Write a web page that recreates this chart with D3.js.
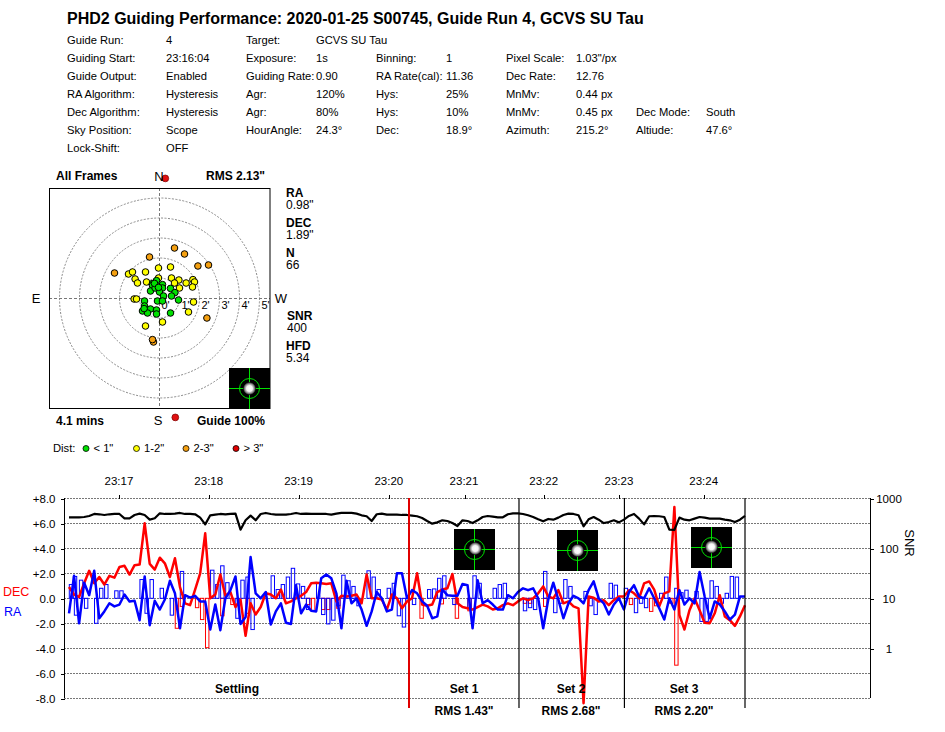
<!DOCTYPE html>
<html><head><meta charset="utf-8">
<script src="https://cdnjs.cloudflare.com/ajax/libs/d3/7.8.5/d3.min.js"></script>
<style>html,body{margin:0;padding:0;background:#fff}svg{display:block}text{font-family:"Liberation Sans",Arial,sans-serif;fill:#000}</style>
</head><body><svg id="c" width="945" height="732"></svg>
<script>
const chartTitle = 'PHD2 Guiding Performance: 2020-01-25 S00745, Guide Run 4, GCVS SU Tau';
const infoRows = [
 ['Guide Run:','4','Target:','GCVS SU Tau'],
 ['Guiding Start:','23:16:04','Exposure:','1s','Binning:','1','Pixel Scale:','1.03"/px'],
 ['Guide Output:','Enabled','Guiding Rate:','0.90','RA Rate(cal):','11.36','Dec Rate:','12.76'],
 ['RA Algorithm:','Hysteresis','Agr:','120%','Hys:','25%','MnMv:','0.44 px'],
 ['Dec Algorithm:','Hysteresis','Agr:','80%','Hys:','10%','MnMv:','0.45 px','Dec Mode:','South'],
 ['Sky Position:','Scope','HourAngle:','24.3°','Dec:','18.9°','Azimuth:','215.2°','Altiude:','47.6°'],
 ['Lock-Shift:','OFF']
];
const statLabels = ['RA','DEC','N','SNR','HFD'];
const statValues = ['0.98"','1.89"','66','400','5.34'];

const pointsGreen = [[-.35,.72],[-.15,.87],[-.35,.63],[.15,.67],[-.45,.35],[-.22,.5],[.15,.5],[0,.3],[.55,.48],[.77,.27],[.6,.1],[.2,.1],[.95,-.1],[-.1,-.15],[.15,-.15],[-.75,-.15],[-.75,-.4],[-.85,-.65],[-.45,-.55],[-.6,-.75],[-.15,-.6],[-.15,-.8],[.55,-.75],[-.77,-.53],[-.25,.73],[-.05,.53]];
const pointsYellow = [[-.05,1.5],[.55,1.55],[-1.55,1.2],[-1.35,1.3],[-.7,1.3],[-1.22,.95],[-1.1,.75],[-.65,.8],[-.05,1],[.6,1],[.97,.9],[.75,.75],[1.33,.75],[1.67,.92],[1.75,.8],[1.65,.55],[1,.5],[-1.27,-.05],[-1.15,-.05],[1.7,-.2],[1.45,-.7],[.15,-1.2],[-.7,-1.4]];
const pointsOrange = [[.75,2.5],[1.25,2.2],[-.5,2.05],[1.92,1.6],[2.45,1.65],[-2.25,1.25],[2.37,-1],[-.3,-2.2],[-.35,-2.08]];
const pointsRed = [[.29,5.98],[.79,-5.97]];
const ringRadii = [1,2,3,4,5];
const legendLabels = ['< 1"','1-2"','2-3"','> 3"'];
const legendColors = ['#00e000','#ffff00','#f5a010','#e00000'];

const decValues = [.9,.3,.1,1.2,2.2,1.2,1.7,1.1,1.8,1.65,2.5,2.6,1.9,2.65,2.7,6,2.75,2.3,3.25,2.8,1.7,3.2,.9,-.4,-.55,.7,2,5.2,0,.3,1.9,.2,.5,-.7,-.1,-3,-.4,-1.3,-.7,.4,.3,0,.7,-.4,-.25,0,.2,.5,1.2,1.25,1.2,1.15,1.2,-.25,.2,.15,.2,.3,-.4,1.9,0,0,-.1,-.9,.3,0,-.8,-.25,0,2,-.5,-.6,-.5,.5,.7,.8,1.95,-.4,-.7,-.8,-.9,-.7,-.5,-.65,-.9,-.8,-.55,-.4,-.55,-.25,0,-.15,0,.4,.95,.15,0,.65,-.4,-.25,-.65,-.8,-8.4,.15,.05,-.25,-.15,-.55,-.15,.15,.15,.65,.4,0,1.2,1.35,.7,-.65,.4,.55,7.3,-1.35,-2.5,-.95,0,-.95,-1.95,-2,-1.2,.25,-1.45,-1.75,-2.2,-1.45,-.55];
const raValues = [-1.2,1.8,-2,1.25,.25,2.2,-1.6,-1.05,-.4,-.65,-.5,.3,-.25,-.2,-1.75,1.75,-2.15,-.2,-.9,-.1,1.4,.4,-2.4,.25,.05,.2,-.25,-.25,-2.5,-.5,-2.55,0,.65,1.75,-2.05,-1.5,3.3,.4,0,.5,-2.1,-1.05,-.4,-1.95,-2.05,1.05,-1.2,-.5,-1,-1.05,1.6,1.9,1.6,.4,-2.4,1.4,-.4,0,-.9,-2.2,-1.05,.5,0,-1.05,-.9,2,2,0,.65,.4,-.25,-.6,-1.6,-1.45,.7,.25,.2,.2,1.15,1.05,-2.4,1.45,-.4,-.15,-.5,-.9,-.9,.25,0,.5,.8,.65,.8,0,-2.4,-.1,1.25,-.1,-1.6,-.4,.2,0,-.4,.65,1.35,0,-.4,-1.3,-.5,0,-.9,.5,1.05,.15,0,.8,0,-.8,-1.7,0,-.9,.65,-.5,0,-.4,2.1,.15,-1.6,-.25,-.5,-1.05,-1.7,-1.3,.15,.15];
const snrValues = [417,417,417,423,443,486,479,464,479,486,486,398,398,464,494,464,374,398,501,486,486,494,509,486,486,479,411,301,457,471,486,479,486,494,236,363,450,363,486,509,486,471,471,471,486,509,486,494,486,486,486,486,471,494,509,509,509,494,457,437,352,479,494,471,471,471,464,464,450,437,404,352,311,330,363,352,320,279,363,352,320,363,423,443,430,417,417,479,501,501,486,457,423,380,346,386,374,411,464,494,486,457,275,380,423,374,320,335,363,330,374,443,486,392,301,437,443,437,423,236,233,411,374,363,392,423,411,392,392,392,374,363,335,374,443];
const raPulseAt = [0,.8,1,2,3,5,6,7,9,10,14,15,16,18,20,22,28,29,30,31,33,34,35,36,40,41,42,43,44,45,46,47,49,50,51,52,53,54,55,56,57,59,60,61,63,64,65,66,68,71,72,73,74,76,79,80,81,84,85,86,90,91,92,94,96,97,98,99,102,103,104,107,108,110,112,113,114,117,118,120,121,122,124,125,126,127,128,129,130,131,132];
const raPulse = [1.1,1.75,-1.35,1.45,-.8,-2,.8,1.1,.6,.6,1.5,-1.2,1.5,.8,-1.35,2.15,2.25,1.1,2.6,1.25,-1.6,1.45,1.7,-2.5,1.8,.7,1.1,1.7,2.4,1.15,.95,-.9,1.2,-1.3,-2.05,-1.75,-.6,1.85,1.4,.95,-.6,2.2,1.7,.7,.8,1.2,-1.4,-2.3,-.5,.7,.75,1.6,1.8,-.5,-.8,1.8,1.2,.8,1.1,1.2,-1,-.75,-.9,2.15,-1.15,-.4,1.5,.95,.55,-.6,-1.3,1.2,1.05,.8,-1.15,-.4,-.75,.4,1.7,.8,.45,.65,.55,-1.85,-1.85,1.4,.95,-.4,.4,1.75,1.7];
const decPulseAt = [21,22,25,26,27,30,32,35,47,48,50,51,53,69.5,73.5,76.5,79,90,91,94,111,115,116,119,120];
const decPulse = [-2.4,-.65,-.75,-1.7,-3.95,-1.4,-.5,-1.2,-.5,-1.05,-.9,-.9,-.8,-1.6,-.45,-1.6,-1,-.4,-.4,-.65,-.5,-1.05,-.6,-.4,-5.35];
const yTicks = [8,6,4,2,0,-2,-4,-6,-8];
const snrTicks = [1000,100,10,1];
const timeLabels = ['23:17','23:18','23:19','23:20','23:21','23:22','23:23','23:24'];
const timeIndex = [10,27.8,45.6,63.5,78.4,94.2,109.1,125.9];
const setIndex = [67.4,89.2,110.1,134];
const setNames = ['Settling','Set 1','Set 2','Set 3'];
const setRms = ['RMS 1.43"','RMS 2.68"','RMS 2.20"'];

const svg = d3.select('#c');
const txt = (g,x,y,s,o={}) => g.append('text').attr('x',x).attr('y',y).text(s)
  .attr('font-size',o.size||11.2).attr('font-weight',o.bold?'bold':null)
  .attr('text-anchor',o.anchor||'start').style('fill',o.fill||'#000');

// header
txt(svg,67,23.5,chartTitle,{size:16,bold:true});
const infoX = [67,166,246,316,376,446,506,576,636,706];
const infoY = [44.5,62,80,98,116,134,152];
infoRows.forEach((row,r)=>row.forEach((s,c)=>txt(svg,infoX[c],infoY[r]-.5,s)));

// bullseye
const bx = d3.scaleLinear().domain([0,5]).range([159.5,259.5]);
const by = d3.scaleLinear().domain([0,5]).range([298,198]);
const bull = svg.append('g');
bull.selectAll('circle.ring').data(ringRadii).join('circle').attr('class','ring')
  .attr('cx',bx(0)).attr('cy',by(0)).attr('r',d=>bx(d)-bx(0))
  .attr('fill','none').attr('stroke','#8a8a8a').attr('stroke-width',1).attr('stroke-dasharray','2,1.5');
bull.append('line').attr('x1',49).attr('x2',270).attr('y1',by(0)+.5).attr('y2',by(0)+.5).attr('stroke','#777').attr('stroke-dasharray','3,2');
bull.append('line').attr('y1',188).attr('y2',408).attr('x1',bx(0)).attr('x2',bx(0)).attr('stroke','#777').attr('stroke-dasharray','3,2');
[0,1,2,3,4,5].forEach(d=>txt(bull,bx(d)+2,by(0)+11,d+"'",{size:11}));
const dots=(data,color)=>bull.append('g').selectAll('circle').data(data).join('circle')
  .attr('cx',d=>bx(d[0])).attr('cy',d=>by(d[1])).attr('r',3.3)
  .attr('fill',color).attr('stroke','#000').attr('stroke-width',1);
dots(pointsOrange,legendColors[2]);dots(pointsYellow,legendColors[1]);dots(pointsGreen,legendColors[0]);
bull.append('rect').attr('x',49.5).attr('y',188.5).attr('width',220.5).attr('height',220).attr('fill','none').attr('stroke','#000').attr('stroke-width',1);
const defs=svg.append('defs');
const rg=defs.append('radialGradient').attr('id','star');
[[0,'#fff'],[.45,'#f4f4f4'],[.75,'#888'],[1,'#000']].forEach(s=>rg.append('stop').attr('offset',s[0]).attr('stop-color',s[1]));
function starTile(x,y,w,sx,sy){
  const g=svg.append('g');
  g.append('rect').attr('x',x).attr('y',y).attr('width',w).attr('height',w).attr('fill','#000');
  const cx=x+w/2,cy=y+w/2;
  g.append('circle').attr('cx',cx).attr('cy',cy).attr('r',10).attr('fill','none').attr('stroke','#00e000').attr('stroke-width',1);
  g.append('line').attr('x1',x).attr('x2',x+w).attr('y1',cy).attr('y2',cy).attr('stroke','#00e000');
  g.append('line').attr('x1',cx).attr('x2',cx).attr('y1',y).attr('y2',y+w).attr('stroke','#00e000');
  g.append('circle').attr('cx',cx+sx).attr('cy',cy+sy).attr('r',6.5).attr('fill','url(#star)');
}
starTile(229,368,41,0,0);
bull.append('g').selectAll('circle').data(pointsRed).join('circle')
  .attr('cx',d=>bx(d[0])).attr('cy',d=>by(d[1])).attr('r',3.4)
  .attr('fill','#e01010').attr('stroke','#700').attr('stroke-width',.7);
txt(svg,56,180,'All Frames',{size:12,bold:true});
txt(svg,159,181,'N',{size:13,anchor:'middle'});
txt(svg,206,180,'RMS 2.13"',{size:12,bold:true});
txt(svg,56,425,'4.1 mins',{size:12,bold:true});
txt(svg,158,425,'S',{size:13,anchor:'middle'});
txt(svg,197,425,'Guide 100%',{size:12,bold:true});
txt(svg,36,303,'E',{size:13,anchor:'middle'});
txt(svg,281,303,'W',{size:13,anchor:'middle'});
const statY=[192.7,222,252.3,315.7,345.7], statX=[286,286,286,287,286];
statLabels.forEach((s,i)=>{txt(svg,statX[i],statY[i]+4.5,s,{size:12,bold:true});txt(svg,statX[i],statY[i]+16.5,statValues[i],{size:12});});
txt(svg,53,452,'Dist:');
const lgX=[86,136.5,186,236];
legendLabels.forEach((s,i)=>{
  svg.append('circle').attr('cx',lgX[i]).attr('cy',448.5).attr('r',3).attr('fill',legendColors[i]).attr('stroke','#000').attr('stroke-width',.8);
  txt(svg,lgX[i]+7.5,452,s);
});

// time plot
const xS=d3.scaleLinear().domain([0,134]).range([69,745]);
const yS=d3.scaleLinear().domain([-8,8]).range([698.3,498.3]);
const snrS=d3.scaleLog().domain([.1,1000]).range([698.3,498.3]);
const plot=svg.append('g');
plot.append('g').selectAll('line').data(yTicks).join('line')
  .attr('x1',64).attr('x2',870).attr('y1',d=>Math.round(yS(d))+.5).attr('y2',d=>Math.round(yS(d))+.5)
  .attr('stroke','#777').attr('stroke-dasharray','2,1');
const axL=plot.append('g').attr('transform','translate(64.5,0.2)').call(d3.axisLeft(yS).tickValues(yTicks).tickSize(4).tickFormat(d=>(d>0?'+':d<0?'-':'')+Math.abs(d).toFixed(1)));
const axR=plot.append('g').attr('transform','translate(870,0.2)').call(d3.axisRight(snrS).tickValues(snrTicks).tickSize(4).tickFormat(d=>d));
const axT=plot.append('g').attr('transform','translate(0,498.5)').call(d3.axisTop(xS).tickValues(timeIndex).tickSize(4).tickFormat((d,i)=>timeLabels[i]));
[axL,axR,axT].forEach(a=>{a.selectAll('text').attr('font-size',11.5).style('font-family','"Liberation Sans",Arial,sans-serif').style('fill','#000');});
axT.select('.domain').remove();
axT.selectAll('text').attr('dy',-7).attr('x',-1);
axL.selectAll('text').attr('x',-9);
axR.selectAll('text').attr('text-anchor','middle').attr('x',19);
[axL,axR,axT].forEach(a=>a.attr('shape-rendering','crispEdges'));
axL.select('.domain').attr('d','M-0,698.1V498.1');
axR.select('.domain').attr('d','M0,698.1V498.1');

const zero=yS(0);
const bars=(at,vals,color)=>plot.append('g').selectAll('rect').data(vals).join('rect')
  .attr('x',(d,i)=>xS(at[i])+.3).attr('width',3.4)
  .attr('y',d=>Math.min(yS(d),zero)).attr('height',d=>Math.abs(yS(d)-zero))
  .attr('fill','none').attr('stroke',color).attr('stroke-width',1);
bars(decPulseAt,decPulse,'#ff0000');
bars(raPulseAt,raPulse,'#0000ff');
const ln=(vals,yf,color,w)=>plot.append('path').datum(vals)
  .attr('d',d3.line().x((d,i)=>xS(i)).y(yf))
  .attr('fill','none').attr('stroke',color).attr('stroke-width',w).attr('stroke-linejoin','round');
ln(decValues,d=>yS(d),'#ff0000',2.5);
ln(raValues,d=>yS(d),'#0000ff',2.5);
ln(snrValues,d=>snrS(d),'#000',2.2);

const setLines=plot.append('g');
setLines.selectAll('line').data(setIndex).join('line')
  .attr('x1',d=>xS(d)).attr('x2',d=>xS(d)).attr('y1',498).attr('y2',708)
  .attr('stroke',(d,i)=>i==0?'#e00000':'#000').attr('stroke-width',(d,i)=>i==0?2:1.2);
starTile(454,529,41,.7,-1);
starTile(557,530,41,0,0);
starTile(691,527,41,0,-.7);
const nameX=[237,464,571,684];
setNames.forEach((s,i)=>txt(svg,nameX[i],693,s,{size:12,bold:true,anchor:'middle'}));
setRms.forEach((s,i)=>txt(svg,nameX[i+1],715,s,{size:12,bold:true,anchor:'middle'}));
txt(svg,3,595.5,'DEC',{size:12.5,fill:'#ff0000'});
txt(svg,4,615.5,'RA',{size:12.5,fill:'#0000ff'});
svg.append('text').attr('transform','translate(904.5,543) rotate(90)').attr('text-anchor','middle').attr('font-size',13).text('SNR');
</script></body></html>
